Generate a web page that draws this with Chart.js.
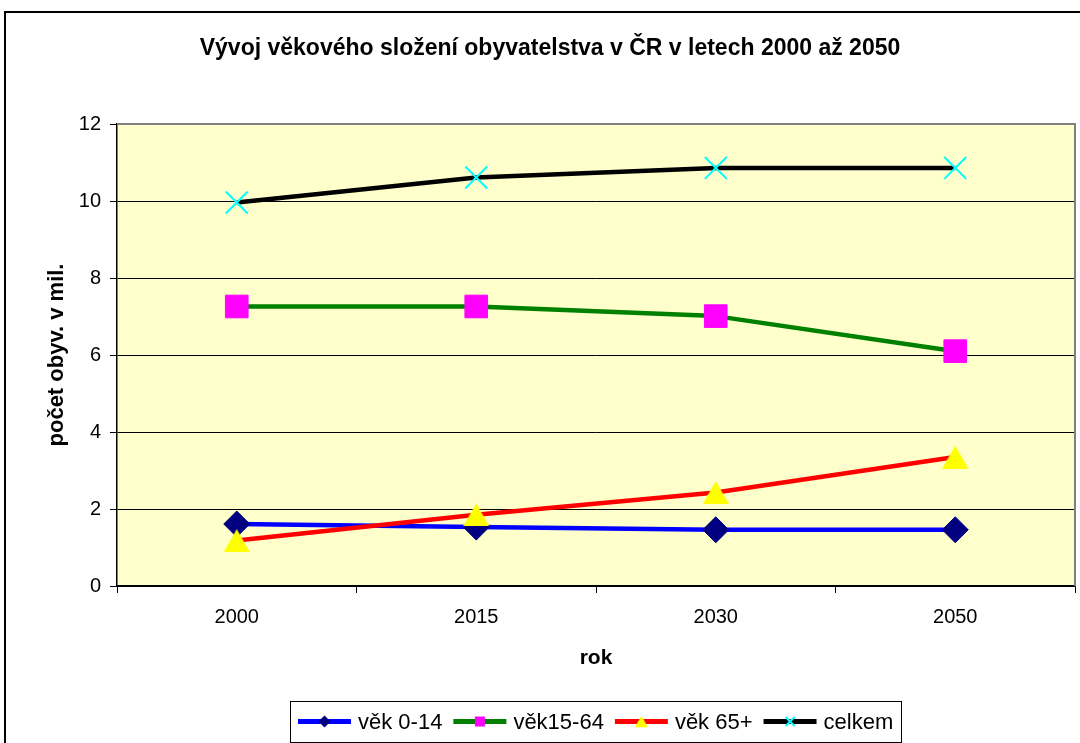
<!DOCTYPE html>
<html>
<head>
<meta charset="utf-8">
<script src="https://cdn.jsdelivr.net/npm/chart.js@4.4.1/dist/chart.umd.min.js"></script>
<style>
html,body{margin:0;padding:0;background:#ffffff;}
canvas{display:block;}
</style>
</head>
<body>
<canvas id="c" width="1080" height="743"></canvas>
<script>
// ---- data ----
const titleText = 'Vývoj věkového složení obyvatelstva v ČR v letech 2000 až 2050';
const categories = ['2000', '2015', '2030', '2050'];
const seriesNames = ['věk 0-14', 'věk15-64', 'věk 65+', 'celkem'];
const vek0_14 = [1.61, 1.53, 1.46, 1.46];
const vek15_64 = [7.26, 7.26, 7.01, 6.10];
const vek65plus = [1.18, 1.85, 2.43, 3.35];
const celkem = [9.96, 10.61, 10.86, 10.86];
const yTicks = [0, 2, 4, 6, 8, 10, 12];
const xTitle = 'rok';
const yTitle = 'počet obyv. v mil.';

// ---- styles ----
const FONT = "'Liberation Sans', Arial, sans-serif";
Chart.defaults.font.family = FONT;
Chart.defaults.color = '#000000';

function makeTriangle(w, h, color) {
  const cv = document.createElement('canvas');
  cv.width = w; cv.height = h;
  const g = cv.getContext('2d');
  g.fillStyle = color;
  g.beginPath();
  g.moveTo(0, h); g.lineTo(w / 2, 0); g.lineTo(w, h); g.closePath();
  g.fill();
  return cv;
}
const triBig = makeTriangle(26, 23, '#FFFF00');

const styles = [
  {line: '#0000FF', marker: 'diamond', fill: '#000080', stroke: '#000080'},
  {line: '#008000', marker: 'square', fill: '#FF00FF', stroke: '#FF00FF'},
  {line: '#FF0000', marker: 'triangle', fill: '#FFFF00', stroke: '#FFFF00'},
  {line: '#000000', marker: 'x', fill: '#00FFFF', stroke: '#00FFFF'}
];

function drawMarker(ctx, kind, x, y, s, fill, stroke) {
  ctx.save();
  ctx.fillStyle = fill; ctx.strokeStyle = stroke;
  ctx.beginPath();
  if (kind === 'diamond') {
    ctx.moveTo(x, y - s); ctx.lineTo(x + s, y); ctx.lineTo(x, y + s); ctx.lineTo(x - s, y); ctx.closePath(); ctx.fill();
  } else if (kind === 'square') {
    ctx.rect(x - s, y - s, 2 * s, 2 * s); ctx.fill();
  } else if (kind === 'triangle') {
    ctx.moveTo(x - s, y + s * 0.9); ctx.lineTo(x, y - s * 0.9); ctx.lineTo(x + s, y + s * 0.9); ctx.closePath(); ctx.fill();
  } else if (kind === 'x') {
    ctx.lineWidth = 2;
    ctx.moveTo(x - s, y - s); ctx.lineTo(x + s, y + s);
    ctx.moveTo(x + s, y - s); ctx.lineTo(x - s, y + s); ctx.stroke();
  }
  ctx.restore();
}

const decorPlugin = {
  id: 'decor',
  beforeDraw(chart) {
    const ctx = chart.ctx, a = chart.chartArea;
    ctx.save();
    ctx.fillStyle = '#ffffff';
    ctx.fillRect(0, 0, chart.width, chart.height);
    // outer chart border
    ctx.strokeStyle = '#000000'; ctx.lineWidth = 2;
    ctx.strokeRect(5, 12, 1200, 900);
    // plot background
    ctx.fillStyle = '#FFFFCC';
    ctx.fillRect(a.left, a.top, a.right - a.left, a.bottom - a.top);
    ctx.restore();
  },
  beforeDatasetsDraw(chart) {
    const ctx = chart.ctx, a = chart.chartArea;
    ctx.save();
    ctx.strokeStyle = '#808080'; ctx.lineWidth = 2;
    ctx.beginPath();
    ctx.moveTo(a.left, a.top); ctx.lineTo(a.right, a.top); ctx.lineTo(a.right, a.bottom);
    ctx.stroke();
    ctx.restore();
  },
  afterDraw(chart) {
    const ctx = chart.ctx, a = chart.chartArea;
    ctx.save();
    // title
    ctx.fillStyle = '#000000';
    ctx.font = 'bold 23px ' + FONT;
    ctx.textAlign = 'center'; ctx.textBaseline = 'middle';
    ctx.fillText(titleText, 550, 49);
    // legend
    ctx.font = '22px ' + FONT;
    const lineLen = 53, gap1 = 7, gap2 = 11, pad = 8;
    const widths = seriesNames.map(n => ctx.measureText(n).width);
    let total = pad * 2 + seriesNames.length * (lineLen + gap1) + widths.reduce((p, c) => p + c, 0) + gap2 * (seriesNames.length - 1);
    const cx = (a.left + a.right) / 2;
    const bx = Math.round(cx - total / 2), by = 701, bh = 41;
    const cy = by + bh / 2;
    ctx.strokeStyle = '#000000'; ctx.lineWidth = 1;
    ctx.strokeRect(bx + 0.5, by + 0.5, Math.round(total), bh);
    let x = bx + pad;
    chart.data.datasets.forEach((ds, i) => {
      const st = styles[i];
      ctx.strokeStyle = st.line; ctx.lineWidth = 5;
      ctx.beginPath(); ctx.moveTo(x, cy); ctx.lineTo(x + lineLen, cy); ctx.stroke();
      const mx = x + lineLen / 2;
      const sz = st.marker === 'diamond' ? 6 : st.marker === 'square' ? 5 : st.marker === 'triangle' ? 6.5 : 4.5;
      drawMarker(ctx, st.marker, mx, cy, sz, st.fill, st.stroke);
      x += lineLen + gap1;
      ctx.fillStyle = '#000000';
      ctx.textAlign = 'left'; ctx.textBaseline = 'middle';
      ctx.fillText(ds.label, x, cy + 1);
      x += widths[i] + gap2;
    });
    ctx.restore();
  }
};

const seriesData = [vek0_14, vek15_64, vek65plus, celkem];
const pointStyles = ['rectRot', 'rect', triBig, 'crossRot'];
const pointRadii = [13, 16, 13, 15.5];

const datasets = seriesData.map((d, i) => ({
  label: seriesNames[i],
  data: d,
  borderColor: styles[i].line,
  backgroundColor: styles[i].line,
  borderWidth: 4.5,
  borderJoinStyle: 'round',
  tension: 0,
  fill: false,
  pointStyle: pointStyles[i],
  pointRadius: pointRadii[i],
  pointHoverRadius: pointRadii[i],
  pointBackgroundColor: styles[i].fill,
  pointBorderColor: styles[i].stroke,
  pointBorderWidth: i === 3 ? 2 : 1,
  order: seriesData.length - 1 - i
}));

new Chart(document.getElementById('c'), {
  type: 'line',
  data: { labels: categories, datasets: datasets },
  plugins: [decorPlugin],
  options: {
    responsive: false,
    animation: false,
    events: [],
    layout: { autoPadding: false, padding: { left: 0, top: 124, right: 5, bottom: 57 } },
    plugins: { legend: { display: false }, title: { display: false }, tooltip: { enabled: false } },
    scales: {
      x: {
        type: 'category',
        offset: true,
        grid: { offset: true, drawOnChartArea: false, drawTicks: true, tickLength: 7, color: '#000000', lineWidth: 1 },
        border: { display: true, color: '#000000', width: 1.5 },
        ticks: { color: '#000000', font: { size: 20 }, padding: 12, maxRotation: 0, autoSkip: false },
        title: { display: true, text: xTitle, color: '#000000', font: { size: 21, weight: 'bold' }, padding: { top: 0, bottom: 15 } },
        afterFit(scale) { scale.height = 100; }
      },
      y: {
        min: 0, max: 12,
        afterBuildTicks(scale) { scale.ticks = yTicks.map(v => ({ value: v })); },
        grid: {
          drawTicks: true, tickLength: 7, lineWidth: 1,
          color: ctx => (ctx.tick && ctx.tick.value === 12) ? '#808080' : '#000000',
          tickColor: '#000000'
        },
        border: { display: true, color: '#000000', width: 1.5 },
        ticks: { color: '#000000', font: { size: 20 }, padding: 9 },
        title: { display: true, text: yTitle, color: '#000000', font: { size: 22, weight: 'bold' }, padding: { top: 44, bottom: 0 } },
        afterFit(scale) { scale.width = 117; }
      }
    }
  }
});
</script>
</body>
</html>
